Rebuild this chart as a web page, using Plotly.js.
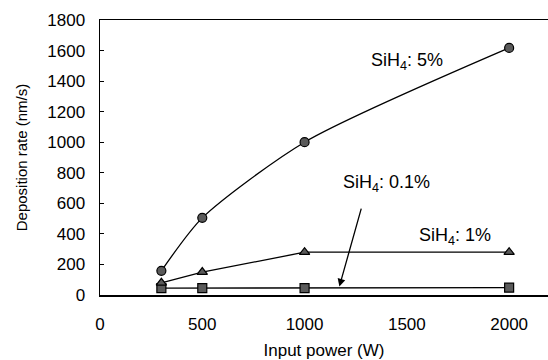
<!DOCTYPE html>
<html>
<head>
<meta charset="utf-8">
<script src="https://cdn.plot.ly/plotly-3.0.1.min.js"></script>
<style>html,body{margin:0;padding:0;background:#fff;}#chart{width:548px;height:360px;}</style>
</head>
<body>
<div id="chart"></div>
<script>
const power = [300, 500, 1000, 2000];
const sih4_5 = [158, 505, 1000, 1617];
const sih4_1 = [80, 150, 280, 280];
const sih4_01 = [45, 45, 45, 48];
const yTicks = [0, 200, 400, 600, 800, 1000, 1200, 1400, 1600, 1800];
const xTicks = [0, 500, 1000, 1500, 2000];

const FONT = 'Liberation Sans, Arial, sans-serif';
const mk = (sym) => ({symbol: sym, size: 9, color: '#5a5a5a', line: {color: '#000', width: 1.2}});
const ln = {color: '#000', width: 1.3};

const data = [
  {x: power, y: sih4_01, mode: 'lines+markers', line: ln, marker: mk('square'), name: 'SiH4: 0.1%'},
  {x: power, y: sih4_1, mode: 'lines+markers', line: ln, marker: mk('triangle-up'), name: 'SiH4: 1%'},
  {x: power, y: sih4_5, mode: 'lines+markers', line: Object.assign({shape: 'spline', smoothing: 0.7}, ln), marker: mk('circle'), name: 'SiH4: 5%'}
];

const layout = {
  width: 548, height: 360,
  margin: {l: 100, r: 0, t: 20, b: 65},
  paper_bgcolor: '#fff', plot_bgcolor: '#fff',
  showlegend: false,
  font: {family: FONT, color: '#000', size: 17},
  xaxis: {
    range: [0, 2190], tickvals: xTicks, ticktext: xTicks.map(String),
    showgrid: false, zeroline: false, showline: true, linecolor: '#000', linewidth: 1.5,
    mirror: true, ticks: '', ticklabelstandoff: 13,
    tickfont: {family: FONT, size: 17},
    title: {text: 'Input power (W)', font: {family: FONT, size: 17}, standoff: 11}
  },
  yaxis: {
    range: [0, 1800], tickvals: yTicks, ticktext: yTicks.map(String),
    showgrid: false, zeroline: false, showline: true, linecolor: '#000', linewidth: 1.5,
    ticks: 'inside', ticklen: 4, tickcolor: '#000', ticklabelstandoff: 10,
    tickfont: {family: FONT, size: 17},
    title: {text: 'Deposition rate (nm/s)', font: {family: FONT, size: 15}, standoff: 16}
  },
  annotations: [
    {x: 1500, y: 1530, xref: 'x', yref: 'y', text: 'SiH<sub>4</sub>: 5%', showarrow: false, font: {family: FONT, size: 18}},
    {x: 1400, y: 730, xref: 'x', yref: 'y', text: 'SiH<sub>4</sub>: 0.1%', showarrow: false, font: {family: FONT, size: 18}},
    {x: 1735, y: 385, xref: 'x', yref: 'y', text: 'SiH<sub>4</sub>: 1%', showarrow: false, font: {family: FONT, size: 18}},
    {x: 1170, y: 55, xref: 'x', yref: 'y', text: ' ', showarrow: true, arrowhead: 2, arrowsize: 1.2, arrowwidth: 1.3, arrowcolor: '#000', ax: 25, ay: -89, standoff: 0}
  ]
};

Plotly.newPlot('chart', data, layout, {displayModeBar: false, staticPlot: true});
</script>
</body>
</html>
